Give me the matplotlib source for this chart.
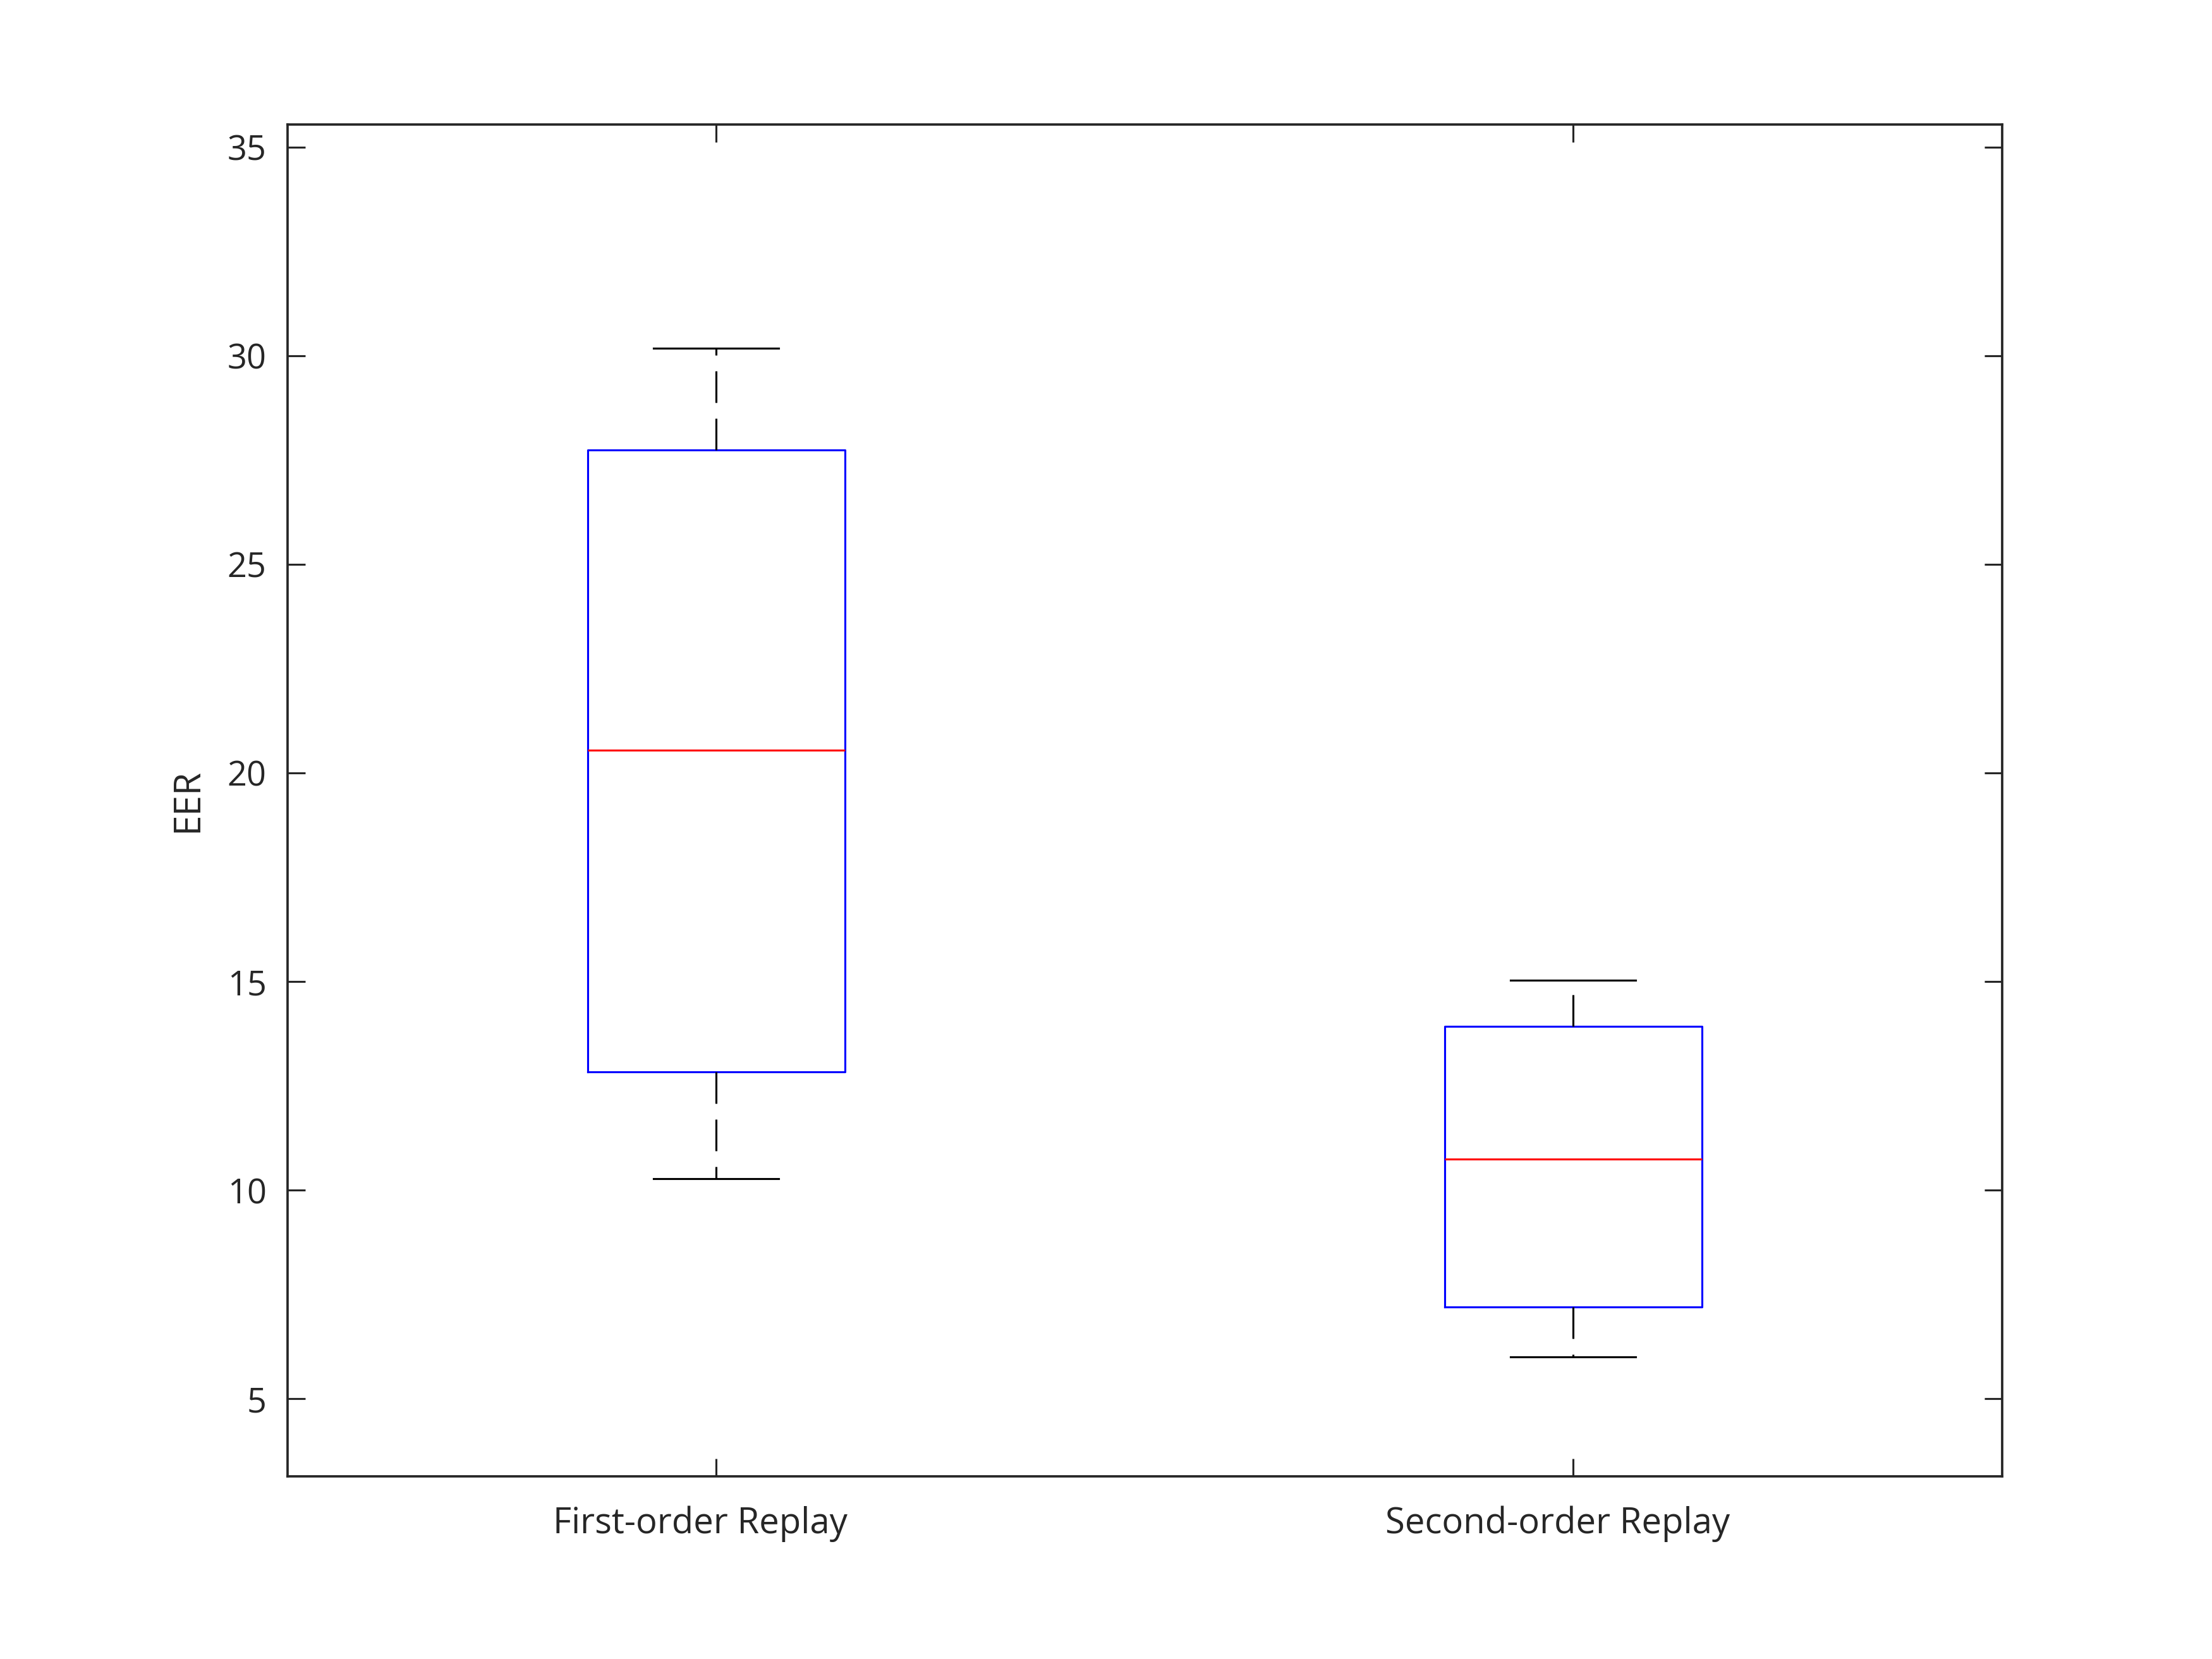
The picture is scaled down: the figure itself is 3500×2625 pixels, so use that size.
import numpy as np
import matplotlib.pyplot as plt
import matplotlib.transforms as mtransforms

# box statistics (EER)
groups = ['First-order Replay', 'Second-order Replay']
whislo = [10.27, 6.01]
q1 = [12.84, 7.20]
med = [20.54, 10.74]
q3 = [27.74, 13.92]
whishi = [30.17, 15.03]

plt.rcParams['font.family'] = ['Open Sans', 'DejaVu Sans']
dark = (0.15, 0.15, 0.15)

fig = plt.figure(figsize=(3500/300, 2625/300), dpi=300)
ax = fig.add_axes([0.13, 0.11, 0.775, 0.815])

stats = []
for i in range(len(groups)):
    stats.append(dict(label=groups[i], whislo=whislo[i], q1=q1[i], med=med[i],
                      q3=q3[i], whishi=whishi[i], fliers=[]))

ax.bxp(stats, positions=[1, 2], widths=0.3, showfliers=False,
       boxprops=dict(color='blue', linewidth=0.75),
       medianprops=dict(color='red', linewidth=0.75),
       whiskerprops=dict(color='black', linewidth=0.75, linestyle=(0, (16, 8))),
       capprops=dict(color='black', linewidth=0.75),
       capwidths=0.146)

ax.set_xlim(0.5, 2.5)
ax.set_ylim(3.14, 35.54)
ax.set_yticks([5, 10, 15, 20, 25, 30, 35])
ax.set_xticks([1, 2])
ax.set_xticklabels(groups)
ax.set_ylabel('EER', fontsize=14, color=dark, labelpad=8)

ax.tick_params(direction='in', top=True, right=True, length=6.7, width=0.75,
               colors=dark, labelsize=13, pad=8)
ax.tick_params(axis='x', labelsize=13.5)
for s in ax.spines.values():
    s.set_color(dark)
    s.set_linewidth(0.9)

# MATLAB-ish label placement: slightly left and lower
shift = mtransforms.ScaledTranslation(-6/72, -3/72, fig.dpi_scale_trans)
for lab in ax.get_xticklabels():
    lab.set_transform(lab.get_transform() + shift)

fig.savefig('out.png', dpi=300, facecolor='white')
